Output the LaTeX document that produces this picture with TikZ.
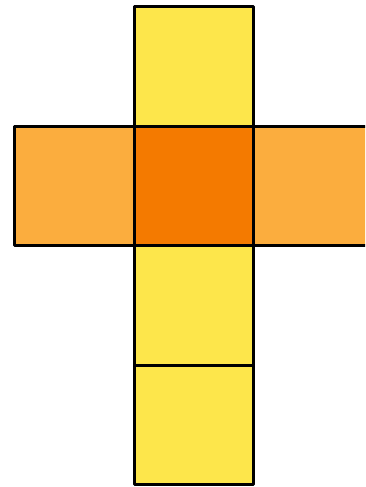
\documentclass[tikz,border=0pt]{standalone}
\definecolor{sqyellow}{RGB}{253,230,75}
\definecolor{sqlight}{RGB}{251,173,62}
\definecolor{sqdark}{RGB}{244,122,0}
\begin{document}
\begin{tikzpicture}[x=1pt,y=-1pt,
  face/.style={draw=black,line width=3pt,line join=round}]
\useasboundingbox (0,0) rectangle (365,487);
\begin{scope}
\clip (0,0) rectangle (365,487);
\filldraw[face,fill=sqyellow] (134,7) rectangle (253,126);
\filldraw[face,fill=sqlight] (14,126) rectangle (134,245);
\filldraw[face,fill=sqlight] (253,126) rectangle (373,245);
\filldraw[face,fill=sqyellow] (134,245) rectangle (253,365);
\filldraw[face,fill=sqyellow] (134,365) rectangle (253,484);
\filldraw[face,fill=sqdark] (134,126) rectangle (253,245);
\end{scope}
\end{tikzpicture}
\end{document}
